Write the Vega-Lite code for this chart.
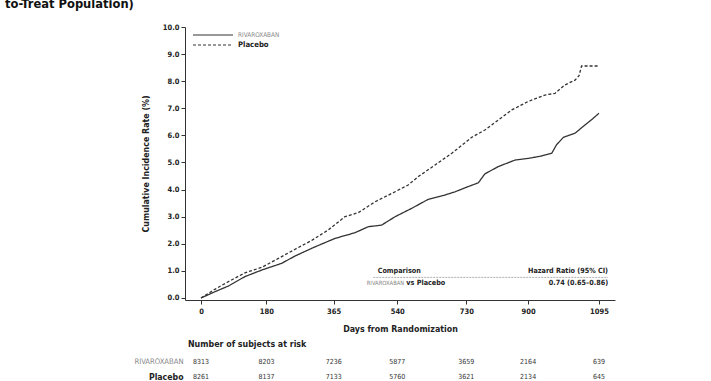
{
  "$schema": "https://vega.github.io/schema/vega-lite/v6.json",
  "autosize": {"type": "none"},
  "padding": {"left": 185, "top": 27, "right": 526, "bottom": 354},
  "background": "white",
  "title": {
    "text": "to-Treat Population)",
    "anchor": "start",
    "frame": "group",
    "dx": -180,
    "dy": -2,
    "offset": 10,
    "fontSize": 12.8,
    "fontWeight": "bold",
    "font": "Liberation Sans Narrow, Arial Narrow, DejaVu Sans Condensed, sans-serif",
    "color": "#111"
  },
  "datasets": {
    "km": [
      {"group": "RIVAROXABAN", "day": 0, "rate": 0},
      {"group": "RIVAROXABAN", "day": 20, "rate": 0.12},
      {"group": "RIVAROXABAN", "day": 38, "rate": 0.23},
      {"group": "RIVAROXABAN", "day": 75, "rate": 0.44},
      {"group": "RIVAROXABAN", "day": 121, "rate": 0.79},
      {"group": "RIVAROXABAN", "day": 167, "rate": 1.03},
      {"group": "RIVAROXABAN", "day": 222, "rate": 1.28},
      {"group": "RIVAROXABAN", "day": 259, "rate": 1.55},
      {"group": "RIVAROXABAN", "day": 314, "rate": 1.89},
      {"group": "RIVAROXABAN", "day": 369, "rate": 2.2},
      {"group": "RIVAROXABAN", "day": 424, "rate": 2.41},
      {"group": "RIVAROXABAN", "day": 460, "rate": 2.63},
      {"group": "RIVAROXABAN", "day": 497, "rate": 2.69},
      {"group": "RIVAROXABAN", "day": 534, "rate": 3.0},
      {"group": "RIVAROXABAN", "day": 580, "rate": 3.31},
      {"group": "RIVAROXABAN", "day": 625, "rate": 3.64},
      {"group": "RIVAROXABAN", "day": 671, "rate": 3.8},
      {"group": "RIVAROXABAN", "day": 699, "rate": 3.92},
      {"group": "RIVAROXABAN", "day": 735, "rate": 4.11},
      {"group": "RIVAROXABAN", "day": 763, "rate": 4.25},
      {"group": "RIVAROXABAN", "day": 781, "rate": 4.58},
      {"group": "RIVAROXABAN", "day": 818, "rate": 4.85},
      {"group": "RIVAROXABAN", "day": 864, "rate": 5.09},
      {"group": "RIVAROXABAN", "day": 900, "rate": 5.15},
      {"group": "RIVAROXABAN", "day": 937, "rate": 5.24},
      {"group": "RIVAROXABAN", "day": 965, "rate": 5.34},
      {"group": "RIVAROXABAN", "day": 978, "rate": 5.65},
      {"group": "RIVAROXABAN", "day": 997, "rate": 5.93},
      {"group": "RIVAROXABAN", "day": 1029, "rate": 6.08},
      {"group": "RIVAROXABAN", "day": 1056, "rate": 6.38},
      {"group": "RIVAROXABAN", "day": 1079, "rate": 6.63},
      {"group": "RIVAROXABAN", "day": 1095, "rate": 6.82},
      {"group": "Placebo", "day": 0, "rate": 0},
      {"group": "Placebo", "day": 38, "rate": 0.32},
      {"group": "Placebo", "day": 75, "rate": 0.6},
      {"group": "Placebo", "day": 121, "rate": 0.93},
      {"group": "Placebo", "day": 167, "rate": 1.13},
      {"group": "Placebo", "day": 213, "rate": 1.46},
      {"group": "Placebo", "day": 259, "rate": 1.8},
      {"group": "Placebo", "day": 304, "rate": 2.12},
      {"group": "Placebo", "day": 350, "rate": 2.51},
      {"group": "Placebo", "day": 396, "rate": 3.0},
      {"group": "Placebo", "day": 433, "rate": 3.15},
      {"group": "Placebo", "day": 479, "rate": 3.55},
      {"group": "Placebo", "day": 534, "rate": 3.92},
      {"group": "Placebo", "day": 570, "rate": 4.17},
      {"group": "Placebo", "day": 598, "rate": 4.48},
      {"group": "Placebo", "day": 644, "rate": 4.91},
      {"group": "Placebo", "day": 690, "rate": 5.34},
      {"group": "Placebo", "day": 745, "rate": 5.93},
      {"group": "Placebo", "day": 781, "rate": 6.2},
      {"group": "Placebo", "day": 818, "rate": 6.57},
      {"group": "Placebo", "day": 855, "rate": 6.94},
      {"group": "Placebo", "day": 900, "rate": 7.25},
      {"group": "Placebo", "day": 946, "rate": 7.49},
      {"group": "Placebo", "day": 974, "rate": 7.55},
      {"group": "Placebo", "day": 1001, "rate": 7.86},
      {"group": "Placebo", "day": 1029, "rate": 8.04},
      {"group": "Placebo", "day": 1040, "rate": 8.2},
      {"group": "Placebo", "day": 1047, "rate": 8.56},
      {"group": "Placebo", "day": 1095, "rate": 8.56}
    ],
    "hr": [
      {"item": "a", "text": "Comparison", "day": 486, "rate": 1.0},
      {"item": "b", "text": "Hazard Ratio (95% CI)", "day": 1120, "rate": 1.0},
      {"item": "c", "text": "RIVAROXABAN", "day": 456, "rate": 0.54},
      {"item": "d", "text": "vs Placebo", "day": 565, "rate": 0.54},
      {"item": "e", "text": "0.74 (0.65–0.86)", "day": 1120, "rate": 0.54}
    ],
    "hrline": [
      {"day": 474, "day2": 1120, "rate": 0.76}
    ],
    "risk": [
      {"group": "RIVAROXABAN", "day": 0, "n": 8313},
      {"group": "RIVAROXABAN", "day": 180, "n": 8203},
      {"group": "RIVAROXABAN", "day": 365, "n": 7236},
      {"group": "RIVAROXABAN", "day": 540, "n": 5877},
      {"group": "RIVAROXABAN", "day": 730, "n": 3659},
      {"group": "RIVAROXABAN", "day": 900, "n": 2164},
      {"group": "RIVAROXABAN", "day": 1095, "n": 639},
      {"group": "Placebo", "day": 0, "n": 8261},
      {"group": "Placebo", "day": 180, "n": 8137},
      {"group": "Placebo", "day": 365, "n": 7133},
      {"group": "Placebo", "day": 540, "n": 5760},
      {"group": "Placebo", "day": 730, "n": 3621},
      {"group": "Placebo", "day": 900, "n": 2134},
      {"group": "Placebo", "day": 1095, "n": 645}
    ]
  },
  "spacing": 55,
  "bounds": "flush",
  "vconcat": [
    {
      "width": 430,
      "height": 273,
      "encoding": {
        "x": {
          "field": "day", "type": "quantitative",
          "scale": {"domain": [-44, 1139], "nice": false, "zero": false},
          "axis": {
            "title": "Days from Randomization",
            "values": [0, 180, 365, 540, 730, 900, 1095],
            "format": "d",
            "labelOverlap": false,
            "tickSize": 4, "labelPadding": 3, "titlePadding": 10,
            "labelFontSize": 7.5, "titleFontSize": 8.8
          }
        },
        "y": {
          "field": "rate", "type": "quantitative",
          "scale": {"domain": [-0.074, 10], "nice": false, "zero": false},
          "axis": {
            "title": "Cumulative Incidence Rate (%)",
            "values": [0, 1, 2, 3, 4, 5, 6, 7, 8, 9, 10],
            "tickCount": 11,
            "format": ".1f",
            "labelOverlap": false,
            "tickSize": 4, "labelPadding": 2, "titlePadding": 12,
            "labelFontSize": 7.5, "titleFontSize": 8.8
          }
        }
      },
      "layer": [
        {
          "data": {"name": "km"},
          "mark": {"type": "line", "strokeWidth": 1.3, "color": "#333"},
          "encoding": {
            "strokeDash": {
              "field": "group", "type": "nominal",
              "scale": {"domain": ["RIVAROXABAN", "Placebo"], "range": [[1, 0], [3, 2]]},
              "legend": {
                "title": null,
                "orient": "top-left",
                "offset": 2,
                "padding": 0,
                "rowPadding": 0,
                "symbolType": "M0,0H8",
                "symbolSize": 100,
                "symbolStrokeWidth": 1.2,
                "symbolStrokeColor": "#333",
                "labelOffset": 39,
                "labelFont": "Liberation Sans Narrow, Arial Narrow, DejaVu Sans Condensed, sans-serif",
                "labelColor": {"expr": "datum.label == 'Placebo' ? '#222' : '#888'"},
                "labelFontWeight": {"expr": "datum.label == 'Placebo' ? 'bold' : 'normal'"},
                "labelFontSize": {"expr": "datum.label == 'Placebo' ? 7.7 : 6.4"}
              }
            }
          }
        },
        {
          "data": {"name": "hrline"},
          "mark": {"type": "rule", "strokeDash": [2, 1], "color": "#999", "strokeWidth": 0.8},
          "encoding": {
            "x2": {"field": "day2"}
          }
        },
        {
          "data": {"name": "hr"},
          "transform": [{"filter": "datum.item == 'a' || datum.item == 'd'"}],
          "mark": {"type": "text", "align": "left", "baseline": "middle", "fontWeight": "bold", "fontSize": 7.2, "color": "#222"},
          "encoding": {
            "text": {"field": "text"}
          }
        },
        {
          "data": {"name": "hr"},
          "transform": [{"filter": "datum.item == 'b' || datum.item == 'e'"}],
          "mark": {"type": "text", "align": "right", "baseline": "middle", "fontWeight": "bold", "fontSize": 7.2, "color": "#222"},
          "encoding": {
            "text": {"field": "text"}
          }
        },
        {
          "data": {"name": "hr"},
          "transform": [{"filter": "datum.item == 'c'"}],
          "mark": {"type": "text", "align": "left", "baseline": "middle", "fontSize": 5.8, "color": "#888"},
          "encoding": {
            "text": {"field": "text"}
          }
        }
      ]
    },
    {
      "width": 430,
      "height": 29,
      "title": {
        "text": "Number of subjects at risk",
        "anchor": "start",
        "frame": "group",
        "dx": 3,
        "offset": 6,
        "fontSize": 8.8,
        "fontWeight": "bold",
        "font": "Liberation Sans Narrow, Arial Narrow, DejaVu Sans Condensed, sans-serif",
        "color": "#222"
      },
      "data": {"name": "risk"},
      "mark": {"type": "text", "fontSize": 7, "color": "#333", "baseline": "middle"},
      "encoding": {
        "x": {
          "field": "day", "type": "quantitative",
          "scale": {"domain": [-44, 1139], "nice": false, "zero": false},
          "axis": null
        },
        "y": {
          "field": "group", "type": "nominal",
          "scale": {"type": "band", "domain": ["RIVAROXABAN", "Placebo"], "paddingInner": 0, "paddingOuter": 0},
          "axis": {
            "title": null, "domain": false, "ticks": false, "labelPadding": 2,
            "labelColor": {"condition": {"test": "datum.value == 'Placebo'", "value": "#222"}, "value": "#888"},
            "labelFontWeight": {"condition": {"test": "datum.value == 'Placebo'", "value": "bold"}, "value": "normal"},
            "labelFontSize": {"condition": {"test": "datum.value == 'Placebo'", "value": 8.7}, "value": 7.6}
          }
        },
        "text": {"field": "n", "type": "quantitative", "format": "d"}
      }
    }
  ],
  "config": {
    "view": {"stroke": null},
    "font": "Liberation Sans Narrow, Arial Narrow, DejaVu Sans Condensed, sans-serif",
    "text": {"font": "Liberation Sans Narrow, Arial Narrow, DejaVu Sans Condensed, sans-serif"},
    "axis": {
      "grid": false,
      "domainColor": "#333",
      "tickColor": "#333",
      "labelColor": "#222",
      "titleColor": "#222",
      "labelFont": "Liberation Sans Narrow, Arial Narrow, DejaVu Sans Condensed, sans-serif",
      "titleFont": "Liberation Sans Narrow, Arial Narrow, DejaVu Sans Condensed, sans-serif",
      "labelFontWeight": "bold",
      "titleFontWeight": "bold"
    }
  }
}
